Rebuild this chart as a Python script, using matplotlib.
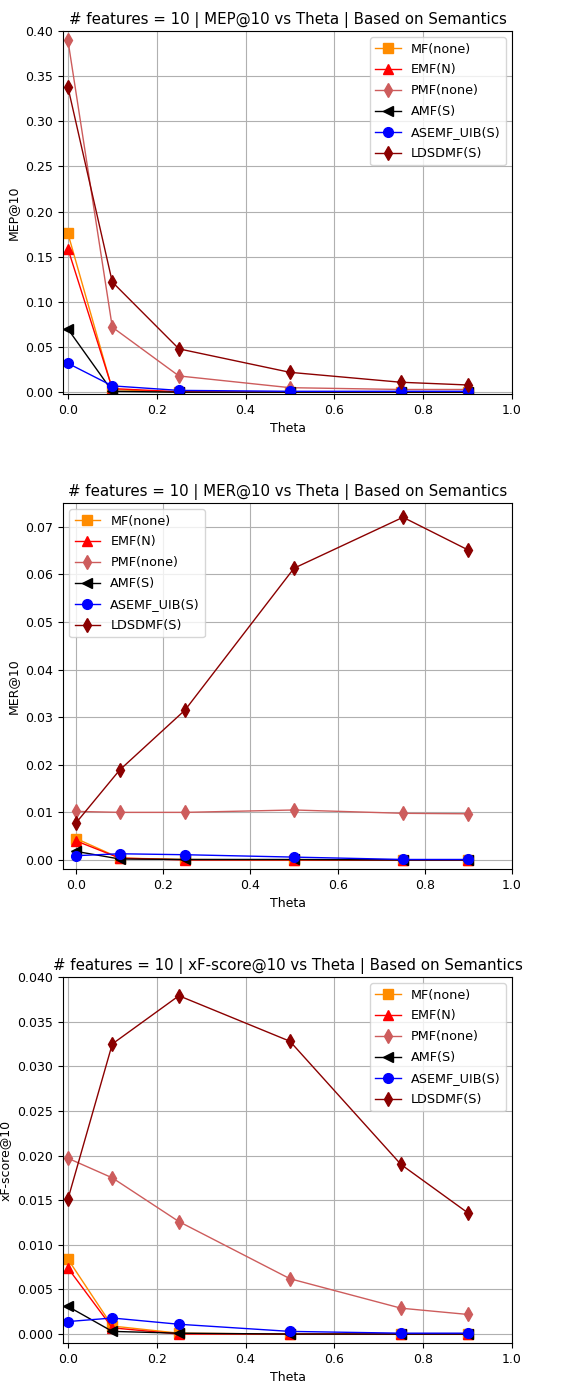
import matplotlib
matplotlib.use("Agg")
import matplotlib.pyplot as plt

W, H = 572, 1385
DPI = 100

theta = [0.0, 0.1, 0.25, 0.5, 0.75, 0.9]
methods = ["MF(none)", "EMF(N)", "PMF(none)", "AMF(S)", "ASEMF_UIB(S)", "LDSDMF(S)"]
colors = ["darkorange", "red", "indianred", "black", "blue", "darkred"]
markers = ["s", "^", "d", "<", "o", "d"]

mep = {
    "MF(none)":     [0.176, 0.003, 0.0, 0.0, 0.0, 0.0],
    "EMF(N)":       [0.159, 0.004, 0.0005, 0.0, 0.0, 0.0],
    "PMF(none)":    [0.390, 0.072, 0.018, 0.005, 0.003, 0.003],
    "AMF(S)":       [0.070, 0.001, 0.0, 0.0, 0.0, 0.0],
    "ASEMF_UIB(S)": [0.032, 0.007, 0.002, 0.001, 0.001, 0.001],
    "LDSDMF(S)":    [0.338, 0.122, 0.048, 0.022, 0.011, 0.008],
}
mer = {
    "MF(none)":     [0.0045, 0.0004, 0.0001, 0.0, 0.0, 0.0],
    "EMF(N)":       [0.0040, 0.0004, 0.0, 0.0, 0.0, 0.0],
    "PMF(none)":    [0.0102, 0.0100, 0.0100, 0.0105, 0.0098, 0.0097],
    "AMF(S)":       [0.0018, 0.0002, 0.0001, 0.0001, 0.0, 0.0],
    "ASEMF_UIB(S)": [0.0009, 0.0013, 0.0011, 0.0006, 0.0001, 0.0001],
    "LDSDMF(S)":    [0.0078, 0.0189, 0.0315, 0.0613, 0.0720, 0.0651],
}
xf = {
    "MF(none)":     [0.0084, 0.0009, 0.0001, 0.0, 0.0, 0.0],
    "EMF(N)":       [0.0074, 0.0007, 0.0, 0.0, 0.0, 0.0],
    "PMF(none)":    [0.0197, 0.0175, 0.0126, 0.0062, 0.0029, 0.0022],
    "AMF(S)":       [0.0031, 0.0003, 0.0001, 0.0, 0.0, 0.0],
    "ASEMF_UIB(S)": [0.0014, 0.0018, 0.0011, 0.0003, 0.0001, 0.0001],
    "LDSDMF(S)":    [0.0151, 0.0325, 0.0379, 0.0328, 0.0190, 0.0136],
}

panels = [
    dict(data=mep, metric="MEP@10", box=(63, 31, 512, 394), ylim=(-0.002, 0.40),
         xlim=(-0.011, 1.0), yticks=[0, 0.05, 0.1, 0.15, 0.2, 0.25, 0.3, 0.35, 0.4],
         yfmt="{:.2f}", loc="upper right"),
    dict(data=mer, metric="MER@10", box=(63, 503, 512, 869), ylim=(-0.0019, 0.0750),
         xlim=(-0.03, 1.0), yticks=[0, 0.01, 0.02, 0.03, 0.04, 0.05, 0.06, 0.07],
         yfmt="{:.2f}", loc="upper left"),
    dict(data=xf, metric="xF-score@10", box=(63, 977, 512, 1343), ylim=(-0.001, 0.040),
         xlim=(-0.011, 1.0), yticks=[0, 0.005, 0.01, 0.015, 0.02, 0.025, 0.03, 0.035, 0.04],
         yfmt="{:.3f}", loc="upper right"),
]

fig = plt.figure(figsize=(W / DPI, H / DPI), dpi=DPI)
for p in panels:
    x0, y0, x1, y1 = p["box"]
    ax = fig.add_axes([x0 / W, 1 - y1 / H, (x1 - x0) / W, (y1 - y0) / H])
    ax.set_axisbelow(True)
    ax.grid(True, color="#b0b0b0", linewidth=0.8)
    for m, c, mk in zip(methods, colors, markers):
        ax.plot(theta, p["data"][m], color=c, marker=mk, markersize=7,
                linewidth=1.0, label=m)
    ax.set_xlim(*p["xlim"])
    ax.set_ylim(*p["ylim"])
    ax.set_xticks([0, 0.2, 0.4, 0.6, 0.8, 1.0])
    ax.set_xticklabels(["0.0", "0.2", "0.4", "0.6", "0.8", "1.0"])
    ax.set_yticks(p["yticks"])
    ax.set_yticklabels([p["yfmt"].format(v) for v in p["yticks"]])
    ax.tick_params(labelsize=9)
    ax.set_xlabel("Theta", fontsize=9, labelpad=4)
    ax.set_ylabel(p["metric"], fontsize=9)
    ax.set_title("# features = 10 | %s vs Theta | Based on Semantics" % p["metric"],
                 fontsize=10.8, pad=5)
    ax.legend(loc=p["loc"], fontsize=9.2, handlelength=2.0, labelspacing=0.62)

fig.savefig("out.png", dpi=DPI)
